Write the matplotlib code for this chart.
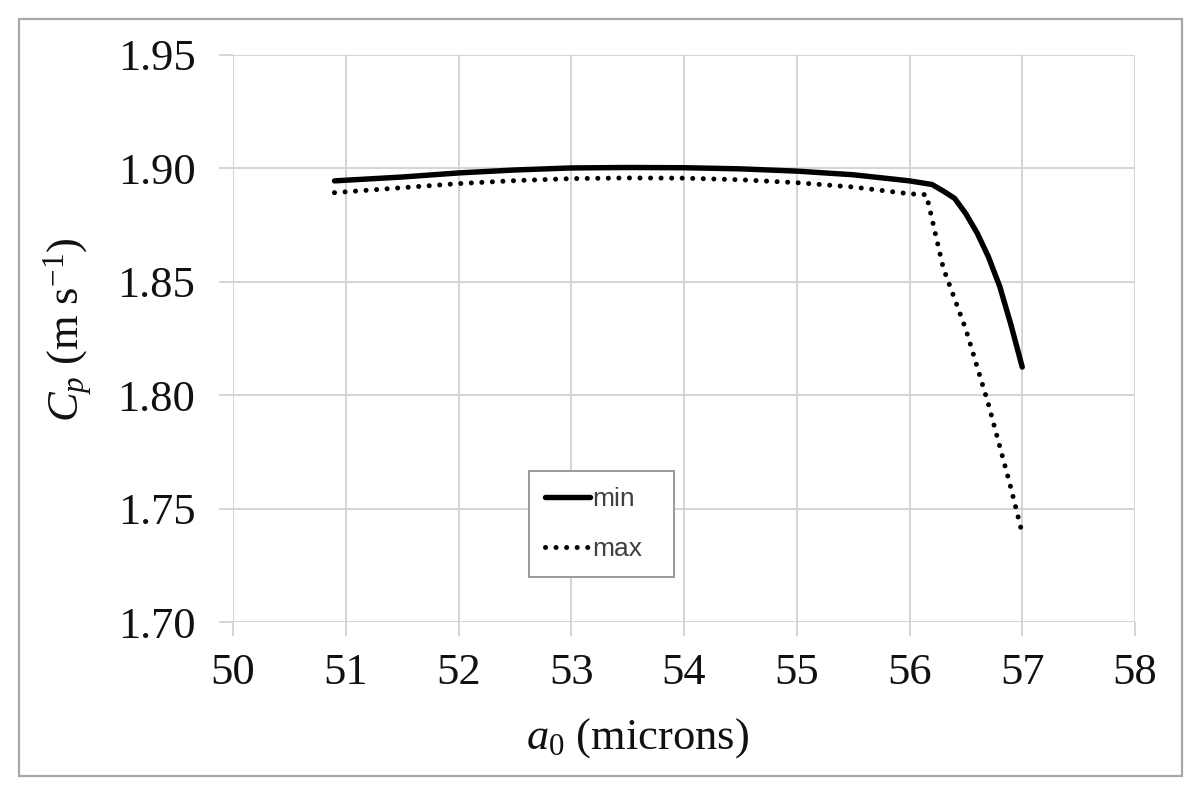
import matplotlib
matplotlib.use("Agg")
import matplotlib.pyplot as plt
from matplotlib.patches import Rectangle

# Data
x_min = [50.9, 51.5, 52.0, 52.5, 53.0, 53.5, 54.0, 54.5, 55.0, 55.5, 56.0, 56.2,
         56.3, 56.4, 56.5, 56.6, 56.7, 56.8, 56.9, 57.0]
y_min = [1.8945, 1.8962, 1.8980, 1.8993, 1.9002, 1.9004, 1.9003, 1.8998, 1.8988, 1.8972, 1.8945, 1.8929,
         1.8900, 1.8868, 1.8800, 1.8715, 1.8610, 1.8480, 1.8310, 1.8124]

x_max = [50.9, 51.5, 52.0, 52.5, 53.0, 53.5, 54.0, 54.5, 55.0, 55.5, 56.0, 56.15, 56.3, 56.5, 56.7, 56.9, 57.0]
y_max = [1.8893, 1.8915, 1.8933, 1.8946, 1.8955, 1.8958, 1.8957, 1.8950, 1.8937, 1.8918, 1.8888, 1.8884,
         1.8560, 1.8290, 1.7960, 1.7590, 1.7390]

x_ticks = [50, 51, 52, 53, 54, 55, 56, 57, 58]
y_ticks = [1.70, 1.75, 1.80, 1.85, 1.90, 1.95]
y_tick_labels = ["1.70", "1.75", "1.80", "1.85", "1.90", "1.95"]

plt.rcParams["font.family"] = ["Liberation Serif", "DejaVu Serif"]
plt.rcParams["mathtext.fontset"] = "custom"
plt.rcParams["mathtext.rm"] = "Liberation Serif"
plt.rcParams["mathtext.it"] = "Liberation Serif:italic"

W, H = 1200, 795
fig = plt.figure(figsize=(W / 100, H / 100), dpi=100)
ax = fig.add_axes([233 / W, 1 - 622 / H, (1135 - 233) / W, (622 - 55) / H])

grid_c = "#d4d4d4"
ax.set_xlim(50, 58)
ax.set_ylim(1.70, 1.95)
ax.set_xticks(x_ticks)
ax.set_yticks(y_ticks)
ax.set_yticklabels(y_tick_labels)
ax.grid(True, color=grid_c, lw=1.4)
ax.set_axisbelow(True)
for s in ax.spines.values():
    s.set_visible(False)
ax.tick_params(axis="both", length=10, width=1.4, color=grid_c, labelsize=32, labelcolor="#111111")
ax.tick_params(axis="y", pad=17)
ax.tick_params(axis="x", pad=12)

ax.plot(x_min, y_min, color="black", lw=3.9, solid_joinstyle="round", solid_capstyle="round", label="min")
ax.plot(x_max, y_max, color="black", lw=3.6, linestyle=(0, (0.01, 2.1)),
        dash_capstyle="round", label="max")

ax.set_xlabel("$a_0$ (microns)", fontsize=32, color="#111111")
ax.xaxis.set_label_coords((638 - 233) / (1135 - 233), -(738 - 622) / (622 - 55))
ax.xaxis.label.set_va("center")
ax.set_ylabel("$C_p$ (m s$^{-1}$)", fontsize=32, color="#111111")
ax.yaxis.set_label_coords(-(233 - 68) / (1135 - 233), (622 - 330) / (622 - 55))
ax.yaxis.label.set_va("center")

leg = ax.legend(loc="lower left",
                bbox_to_anchor=((529 - 233) / 902, (622 - 577) / 567, (674 - 529) / 902, (577 - 473) / 567),
                mode="expand", prop={"family": "Liberation Sans", "size": 19},
                handlelength=1.7, handletextpad=0.1, labelspacing=1.0, borderpad=0.6,
                borderaxespad=0, fancybox=False, framealpha=1, edgecolor="#9a9a9a")
leg.get_frame().set_linewidth(1.4)
for t in leg.get_texts():
    t.set_color("#404040")

fig.patches.append(Rectangle((19 / W, 1 - 776 / H), (1182 - 19) / W, (776 - 19) / H,
                             transform=fig.transFigure, fill=False, edgecolor="#a8a8a8", lw=1.6))

fig.savefig("out.png", dpi=100)
